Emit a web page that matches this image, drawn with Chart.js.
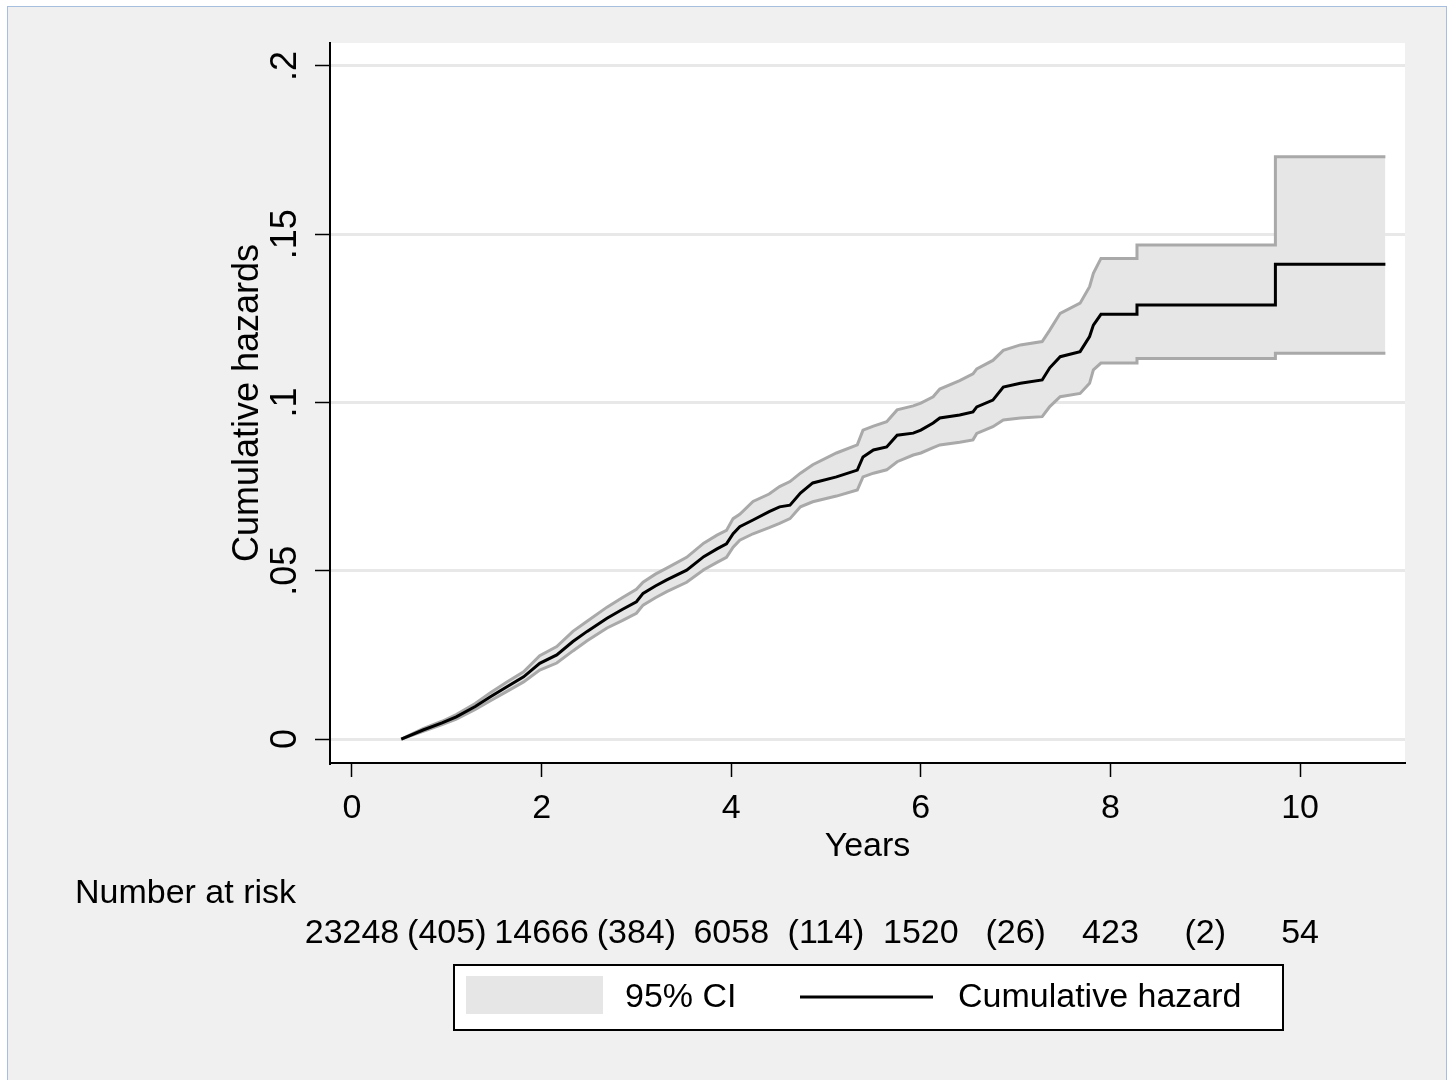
<!DOCTYPE html>
<html lang="en">
<head>
  <meta charset="UTF-8" />
  <title>Cumulative hazard</title>
  <script src="https://cdn.jsdelivr.net/npm/chart.js@4.4.0/dist/chart.umd.min.js"></script>
  <style>
    html, body { margin: 0; padding: 0; background: #fff; }
    #wrap { position: relative; width: 1450px; height: 1080px; }
  </style>
</head>
<body>
  <div id="wrap"><canvas id="hazard-chart" width="1450" height="1080"></canvas></div>

  <script>
    // curve vertices (years); repeated times are the corners of the late steps
    const years = [0.52, 0.75, 0.95, 1.10, 1.30, 1.46, 1.63, 1.81, 1.98, 2.16, 2.33, 2.48, 2.69, 2.85,
      3.00, 3.07, 3.20, 3.32, 3.53, 3.71, 3.85, 3.95, 4.02, 4.09, 4.23, 4.40, 4.51, 4.62, 4.73, 4.86,
      5.11, 5.33, 5.39, 5.50, 5.64, 5.75, 5.92, 6.00, 6.13, 6.20, 6.41, 6.55, 6.59, 6.76, 6.87, 7.05,
      7.28, 7.36, 7.47, 7.68, 7.78, 7.82, 7.90, 8.28, 8.28, 9.74, 9.74, 10.90];
    const hazard = [0, .0027, .0048, .0066, .0097, .0126, .0155, .0185, .0225, .0250, .0290, .0320, .0359, .0385,
      .0408, .0433, .0455, .0473, .0502, .0542, .0565, .0580, .0610, .0631, .0651, .0676, .0690, .0695, .0731, .0761,
      .0779, .0799, .0838, .0859, .0868, .0903, .0909, .0918, .0939, .0954, .0963, .0972, .0987, .1007, .1046, .1057,
      .1067, .1103, .1136, .1151, .1196, .1230, .1262, .1262, .1290, .1290, .1411, .1411];
    const upperCI = [0, .0031, .0053, .0073, .0106, .0138, .0169, .0200, .0248, .0275, .0320, .0350, .0392, .0420,
      .0445, .0466, .0490, .0508, .0540, .0582, .0606, .0620, .0655, .0668, .0706, .0728, .0750, .0765, .0790, .0815,
      .0850, .0874, .0918, .0930, .0943, .0978, .0990, .0998, .1017, .1040, .1065, .1085, .1100, .1125, .1155, .1171,
      .1181, .1215, .1265, .1295, .1344, .1384, .1428, .1428, .1468, .1468, .1730, .1730];
    const lowerCI = [0, .0023, .0043, .0059, .0088, .0114, .0141, .0170, .0205, .0226, .0262, .0292, .0330, .0352,
      .0374, .0398, .0420, .0438, .0466, .0503, .0525, .0540, .0570, .0591, .0610, .0628, .0641, .0655, .0690, .0705,
      .0722, .0740, .0779, .0790, .0800, .0824, .0844, .0850, .0866, .0874, .0882, .0889, .0908, .0928, .0948, .0954,
      .0958, .0988, .1017, .1027, .1057, .1097, .1117, .1117, .1131, .1131, .1146, .1146];

    const xTicks = [0, 2, 4, 6, 8, 10];
    const yTicks = [0, 0.05, 0.1, 0.15, 0.2];

    // number at risk table (even years) and events in between (odd years)
    const riskYears = [0, 2, 4, 6, 8, 10];
    const atRisk = [23248, 14666, 6058, 1520, 423, 54];
    const eventYears = [1, 3, 5, 7, 9];
    const events = [405, 384, 114, 26, 2];

    const FONT = "'Liberation Sans', Arial, sans-serif";

    function toPoints(values) {
      return years.map((t, i) => ({ x: t, y: values[i] }));
    }

    const backgroundPlugin = {
      id: 'stataBackground',
      beforeDraw(chart) {
        const { ctx, chartArea } = chart;
        ctx.save();
        ctx.fillStyle = '#ffffff';
        ctx.fillRect(0, 0, 1450, 1080);
        ctx.fillStyle = '#f0f0f0';
        ctx.fillRect(7, 6, 1439, 1074);
        ctx.strokeStyle = '#a6bfdf';
        ctx.lineWidth = 1;
        ctx.strokeRect(7.5, 6.5, 1439, 1080);
        ctx.fillStyle = '#ffffff';
        ctx.fillRect(chartArea.left, chartArea.top, chartArea.right - chartArea.left, chartArea.bottom - chartArea.top);
        ctx.restore();
      }
    };

    const riskTablePlugin = {
      id: 'riskTable',
      afterDraw(chart) {
        const { ctx } = chart;
        const xScale = chart.scales.x;
        ctx.save();
        ctx.fillStyle = '#000';
        ctx.font = `34px ${FONT}`;
        ctx.textBaseline = 'middle';
        ctx.textAlign = 'left';
        ctx.fillText('Number at risk', 75, 894);

        ctx.textAlign = 'center';
        riskYears.forEach((t, i) => {
          ctx.fillText(String(atRisk[i]), xScale.getPixelForValue(t), 934);
        });
        eventYears.forEach((t, i) => {
          ctx.fillText(`(${events[i]})`, xScale.getPixelForValue(t), 934);
        });

        // legend
        ctx.fillStyle = '#ffffff';
        ctx.fillRect(454, 965, 829, 65);
        ctx.strokeStyle = '#000';
        ctx.lineWidth = 2;
        ctx.strokeRect(454, 965, 829, 65);
        ctx.fillStyle = '#e6e6e6';
        ctx.fillRect(466, 976, 137, 38);
        ctx.fillStyle = '#000';
        ctx.textAlign = 'left';
        ctx.fillText('95% CI', 625, 998);
        ctx.beginPath();
        ctx.moveTo(800, 997);
        ctx.lineTo(933, 997);
        ctx.lineWidth = 3;
        ctx.stroke();
        ctx.fillText('Cumulative hazard', 958, 998);
        ctx.restore();
      }
    };

    const ctx = document.getElementById('hazard-chart');
    new Chart(ctx, {
      type: 'line',
      data: {
        datasets: [
          {
            label: 'Cumulative hazard',
            data: toPoints(hazard),
            borderColor: '#000',
            borderWidth: 3,
            pointRadius: 0,
            tension: 0,
            fill: false
          },
          {
            label: 'Upper 95% CI',
            data: toPoints(upperCI),
            borderColor: '#a9a9a9',
            borderWidth: 3,
            pointRadius: 0,
            tension: 0,
            backgroundColor: '#e6e6e6',
            fill: '+1'
          },
          {
            label: 'Lower 95% CI',
            data: toPoints(lowerCI),
            borderColor: '#a9a9a9',
            borderWidth: 3,
            pointRadius: 0,
            tension: 0,
            fill: false
          }
        ]
      },
      options: {
        responsive: false,
        animation: false,
        layout: { padding: { left: 200, top: 43, right: 45, bottom: 207 } },
        plugins: {
          legend: { display: false },
          tooltip: { enabled: false },
          filler: { drawTime: 'beforeDatasetsDraw' }
        },
        scales: {
          x: {
            type: 'linear',
            min: -0.232,
            max: 11.107,
            afterBuildTicks: scale => { scale.ticks = xTicks.map(value => ({ value })); },
            afterFit: scale => { scale.height = 110; },
            border: { color: '#000', width: 2 },
            grid: { drawOnChartArea: false, drawTicks: true, tickLength: 14, tickColor: '#000', tickWidth: 1.5 },
            ticks: {
              color: '#000',
              padding: 11,
              maxRotation: 0,
              font: { family: FONT, size: 34 }
            },
            title: {
              display: true,
              text: 'Years',
              color: '#000',
              padding: { top: 0, bottom: 6 },
              font: { family: FONT, size: 34 }
            }
          },
          y: {
            min: -0.0071,
            max: 0.2068,
            afterBuildTicks: scale => { scale.ticks = yTicks.map(value => ({ value })); },
            afterFit: scale => { scale.width = 130; },
            border: { color: '#000', width: 2 },
            grid: { color: '#e8e8e8', lineWidth: 3, drawTicks: true, tickLength: 15, tickColor: '#000', tickWidth: 1.5 },
            ticks: {
              color: '#000',
              padding: 4,
              minRotation: 90,
              maxRotation: 90,
              crossAlign: 'center',
              font: { family: FONT, size: 36 },
              callback: v => (v === 0 ? '0' : String(+v.toFixed(2)).replace(/^0/, ''))
            },
            title: {
              display: true,
              text: 'Cumulative hazards',
              color: '#000',
              padding: { top: 26, bottom: 0 },
              font: { family: FONT, size: 36 }
            }
          }
        }
      },
      plugins: [backgroundPlugin, riskTablePlugin]
    });
  </script>
</body>
</html>
